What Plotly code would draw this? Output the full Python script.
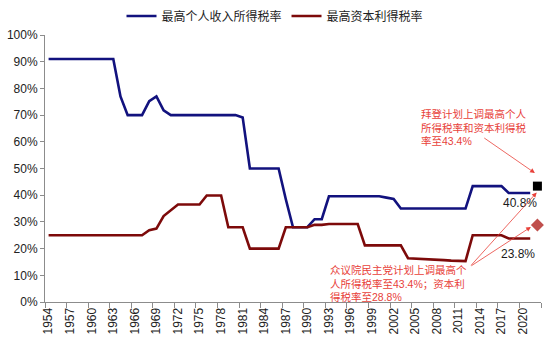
import plotly.graph_objects as go

# Top marginal tax rates in the US, 1954-2021 (percent)
years = list(range(1954, 2022))
income_top = (
    [91] * 10                      # 1954-1963
    + [77, 70, 70, 70, 75.25, 77, 71.75]  # 1964-1970
    + [70] * 10                    # 1971-1980
    + [69.13]                      # 1981
    + [50] * 5                     # 1982-1986
    + [38.5]                       # 1987
    + [28] * 3                     # 1988-1990
    + [31] * 2                     # 1991-1992
    + [39.6] * 8                   # 1993-2000
    + [39.1, 38.6]                 # 2001-2002
    + [35] * 10                    # 2003-2012
    + [43.4] * 5                   # 2013-2017
    + [40.8] * 4                   # 2018-2021
)
capgains_top = (
    [25] * 14                      # 1954-1967
    + [26.9, 27.5, 32.2, 34.25]    # 1968-1971
    + [36.5] * 4                   # 1972-1975
    + [39.9] * 3                   # 1976-1978
    + [28] * 3                     # 1979-1981
    + [20] * 5                     # 1982-1986
    + [28] * 4                     # 1987-1990
    + [28.9] * 2                   # 1991-1992
    + [29.2] * 5                   # 1993-1997
    + [21.2] * 6                   # 1998-2003
    + [16.4, 16.3, 16.2, 16.1, 15.9, 15.7, 15.5, 15.3, 15.3]  # 2004-2012
    + [25] * 5                     # 2013-2017
    + [23.8] * 4                   # 2018-2021
)

# Proposed rates shown for 2022
proposal_year = 2022
biden_rate = 43.4
house_capgains_rate = 28.8

series_names = ["最高个人收入所得税率", "最高资本利得税率"]
tick_years = list(range(1954, 2022, 3))
y_ticks = [i / 10 for i in range(11)]

navy = "#12127e"
maroon = "#7d0a0a"
note_red = "#e8413a"
axis_grey = "#8c8c8c"
font_family = "Liberation Sans, Arial, Noto Sans CJK SC, sans-serif"

fig = go.Figure()
fig.add_trace(go.Scatter(
    x=years, y=[v / 100 for v in income_top], mode="lines",
    name=series_names[0], line=dict(color=navy, width=2.6),
))
fig.add_trace(go.Scatter(
    x=years, y=[v / 100 for v in capgains_top], mode="lines",
    name=series_names[1], line=dict(color=maroon, width=2.6),
))
fig.add_trace(go.Scatter(
    x=[proposal_year], y=[biden_rate / 100], mode="markers", showlegend=False,
    marker=dict(symbol="square", size=9, color="black"), cliponaxis=False,
))
fig.add_trace(go.Scatter(
    x=[proposal_year], y=[house_capgains_rate / 100], mode="markers", showlegend=False,
    marker=dict(symbol="diamond", size=10, color="#c0504d"), cliponaxis=False,
))

# Value labels under the last observed year
last_year = years[-1]
for val, dx, dy in [(income_top[-1], -10, -10), (capgains_top[-1], -12, -16)]:
    fig.add_annotation(
        x=last_year, y=val / 100, text=f"{val:.1f}%", showarrow=False,
        xshift=dx, yshift=dy, xanchor="center", yanchor="middle",
        font=dict(size=12, color="#1a1a1a", family=font_family),
    )

# Policy notes
fig.add_annotation(
    x=2005.5, y=0.735, xanchor="left", yanchor="top", align="left",
    text="拜登计划上调最高个人<br>所得税率和资本利得税<br>率至43.4%",
    showarrow=False, font=dict(size=10.5, color=note_red, family=font_family),
)
fig.add_annotation(
    x=1992.9, y=0.071, xanchor="left", yanchor="middle", align="left",
    text="众议院民主党计划上调最高个<br>人所得税率至43.4%；资本利<br>得税率至28.8%",
    showarrow=False, font=dict(size=10.5, color=note_red, family=font_family),
)

# Arrows pointing at the proposal markers
for (x0, y0), (x1, y1) in [
    ((2014.4, 0.618), (2021.65, 0.483)),
    ((2012.6, 0.132), (2021.9, 0.41)),
    ((2012.6, 0.132), (2021.1, 0.281)),
]:
    fig.add_annotation(
        x=x1, y=y1, ax=x0, ay=y0, xref="x", yref="y", axref="x", ayref="y",
        text="", showarrow=True, arrowhead=2, arrowsize=1.2, arrowwidth=0.8,
        arrowcolor=note_red, standoff=0,
    )

fig.update_layout(
    width=550, height=345,
    margin=dict(l=45, r=9, t=35, b=43),
    paper_bgcolor="white", plot_bgcolor="white",
    font=dict(family=font_family, size=12, color="#222222"),
    legend=dict(
        orientation="h", xref="container", yref="container",
        x=0.5, xanchor="center", y=1 - 16 / 345, yanchor="middle",
        font=dict(size=12, color="#222222"), itemwidth=30,
    ),
    showlegend=True,
)
fig.update_xaxes(
    range=[1953.5, 2022.5], tickmode="array", tickvals=tick_years,
    ticktext=[str(y) for y in tick_years], tickangle=-90, ticks="",
    tickfont=dict(size=12, color="#222222"),
    showline=True, linecolor=axis_grey, linewidth=1, showgrid=False,
    zeroline=False, automargin=False,
    minor=dict(ticks="outside", ticklen=5, tick0=1953.5, dtick=3,
               tickcolor=axis_grey, showgrid=False),
)
fig.update_yaxes(
    range=[0, 1], tickmode="array", tickvals=y_ticks, tickformat=".0%",
    ticks="outside", ticklen=4, tickcolor=axis_grey,
    tickfont=dict(size=12, color="#222222"),
    showline=True, linecolor=axis_grey, linewidth=1, showgrid=False,
    zeroline=False, automargin=False,
)

fig.write_html("out.html")
